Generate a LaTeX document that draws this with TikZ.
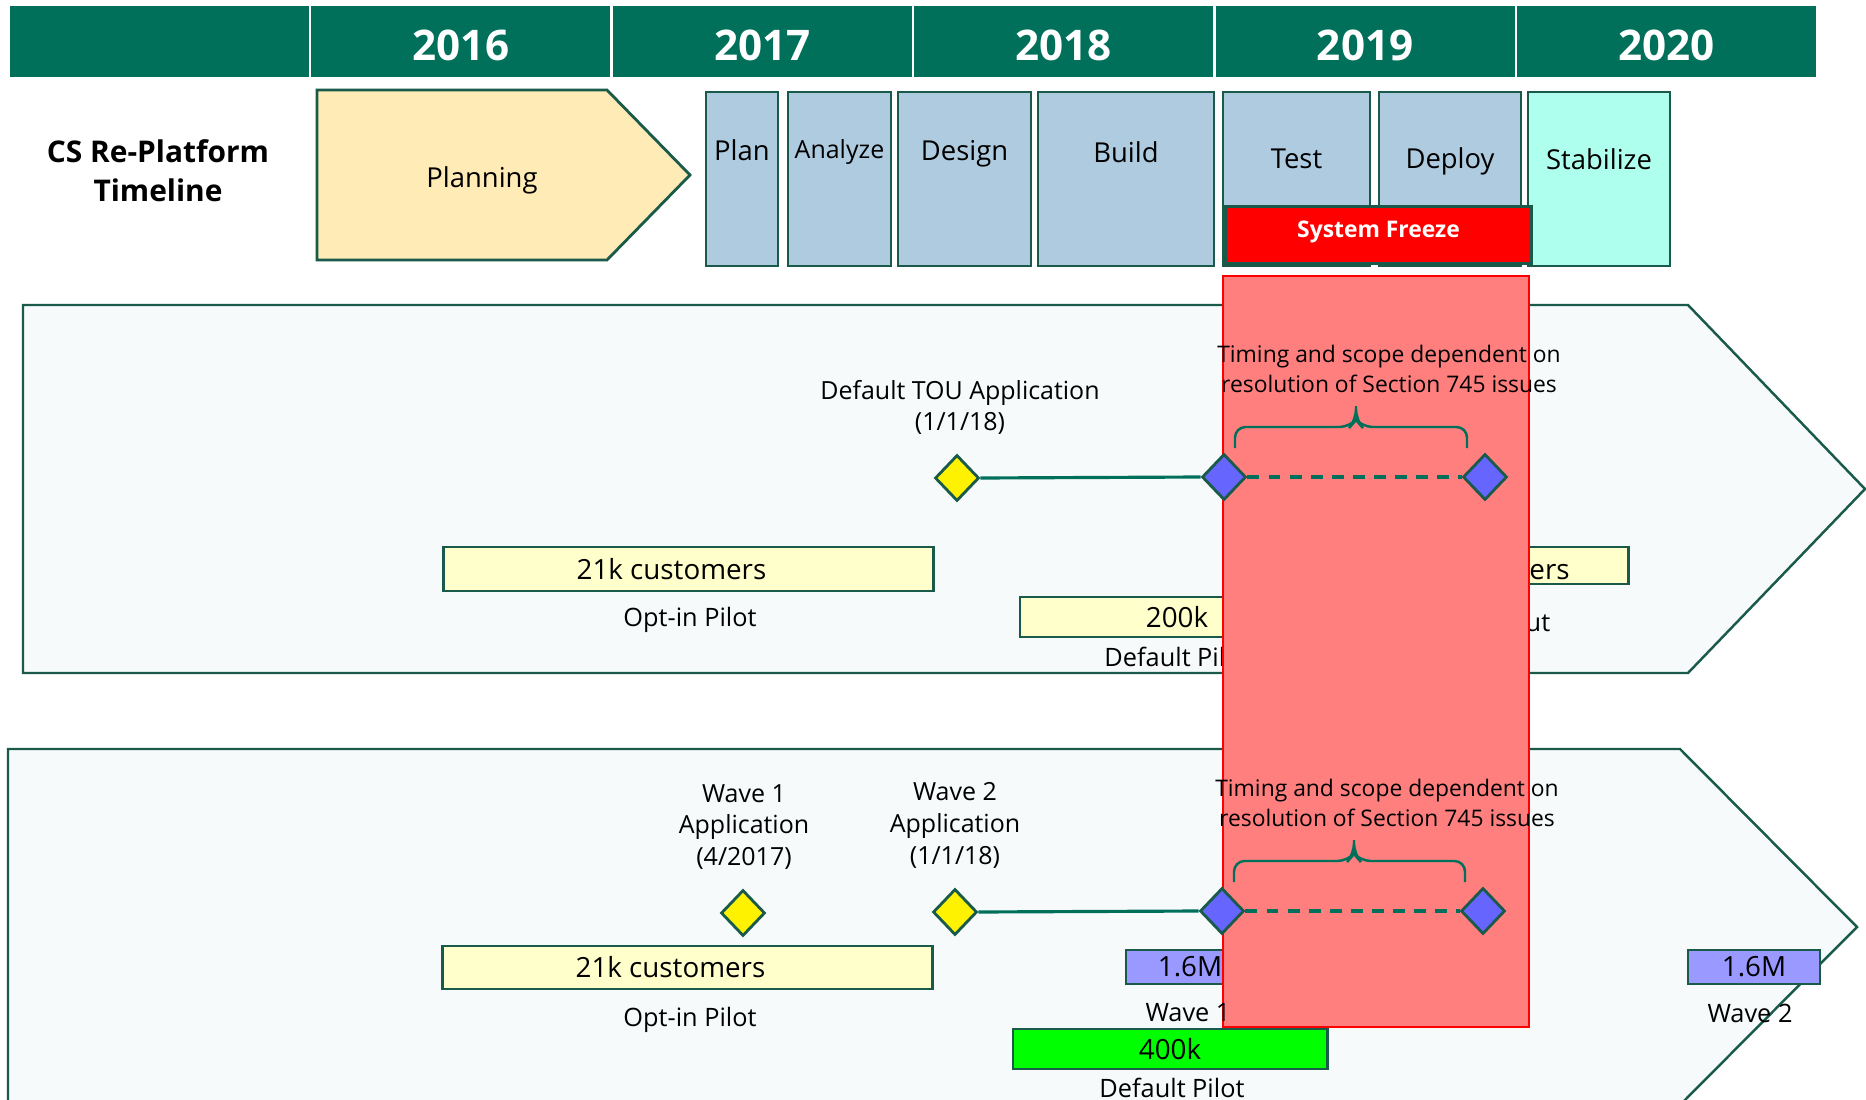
\documentclass[tikz,border=0pt]{standalone}
\usepackage{fontspec}
\setmainfont{Open Sans}
\usepackage{tikz}
\usetikzlibrary{shapes.geometric, positioning, calc}

\definecolor{hdrteal}{RGB}{0,112,90}
\definecolor{edge}{RGB}{25,90,75}
\definecolor{planfill}{RGB}{255,235,182}
\definecolor{phaseblue}{RGB}{174,203,223}
\definecolor{stabfill}{RGB}{175,255,238}
\definecolor{lanefill}{RGB}{246,250,251}
\definecolor{paleyellow}{RGB}{255,255,204}
\definecolor{wavepurple}{RGB}{153,153,255}
\definecolor{pilotgreen}{RGB}{0,255,0}
\definecolor{zonered}{RGB}{255,127,127}
\definecolor{gateblue}{RGB}{102,102,255}

\begin{document}
\begin{tikzpicture}[x=0.01cm, y=-0.01cm,
        yearcell/.style={fill=hdrteal, minimum width=2.99cm, minimum height=0.71cm, inner sep=0pt},
        yeartext/.style={text=white, font=\fontsize{12}{14}\selectfont\bfseries, inner sep=0pt},
        rowlabel/.style={align=center, font=\fontsize{8.5}{11}\selectfont\bfseries},
        phase/.style={draw=edge, line width=0.8pt, fill=phaseblue, minimum height=1.74cm, inner sep=0pt},
        phasetext/.style={font=\fontsize{7.8}{9}\selectfont},
        lane/.style={draw=edge, line width=0.7pt, fill=lanefill},
        bar/.style={draw=edge, line width=0.8pt, fill=paleyellow, inner sep=0pt, font=\fontsize{7.9}{9}\selectfont},
        caption/.style={font=\fontsize{7.2}{9}\selectfont},
        note/.style={align=center, font=\fontsize{7.1}{9}\selectfont},
        scopenote/.style={align=center, font=\fontsize{6.5}{8.3}\selectfont},
        milestone/.style={diamond, draw=edge, line width=0.8pt, fill=yellow, minimum width=0.44cm, minimum height=0.46cm, inner sep=0pt},
        gate/.style={milestone, fill=gateblue},
        link/.style={draw=hdrteal, line width=0.9pt},
        bracket/.style={draw=hdrteal, line width=0.7pt, rounded corners=3pt}
    ]
        \useasboundingbox (0,0) rectangle (1866,1100);

        % year header
        \node[yearcell] (hdr) at (159.5,41.5) {};
        \foreach \yr [count=\i] in {2016,2017,2018,2019,2020} {
            \node[yearcell] (y\yr) at ({10+\i*301.4+149.5},41.5) {};
            \node[yeartext] (t\yr) at ([yshift=-0.04cm]y\yr.center) {\yr};
        }

        % row titles
        \node[rowlabel] (csrow) at (158,171) {CS Re-Platform\\Timeline};
        \node[rowlabel] (origrow) at (149,512) {Original\\Assumed TOU\\Transition Plan};
        \node[rowlabel] (proprow) at (154,947) {Proposed TOU\\Transition Plan};

        % re-platform phases
        \draw[lane, fill=planfill, line width=0.8pt] (317,90) -- (607,90) -- (690,175) -- (607,260) -- (317,260) -- cycle;
        \node[phasetext] (planning) at (482,180) {Planning};

        \node[phase, minimum width=0.72cm] (plan) at (742,179) {};
        \node[phase, minimum width=1.03cm] (analyze) at (839.5,179) {};
        \node[phase, minimum width=1.33cm] (design) at (964.5,179) {};
        \node[phase, minimum width=1.76cm] (build) at (1126,179) {};
        \node[phase, minimum width=1.47cm] (test) at (1296.5,179) {};
        \node[phase, minimum width=1.42cm] (deploy) at (1450,179) {};
        \node[phase, minimum width=1.42cm, fill=stabfill] (stabilize) at (1599,179) {};

        \node[phasetext] (plantxt) at ([yshift=-0.60cm]plan.north) {Plan};
        \node[phasetext, font=\fontsize{7.1}{9}\selectfont] (analyzetxt) at ([yshift=-0.61cm]analyze.north) {Analyze};
        \node[phasetext] (designtxt) at ([yshift=-0.63cm]design.north) {Design};
        \node[phasetext] (buildtxt) at ([yshift=-0.62cm]build.north) {Build};
        \node[phasetext] (testtxt) at ([yshift=-0.685cm]test.north) {Test};
        \node[phasetext] (deploytxt) at ([yshift=-0.71cm]deploy.north) {Deploy};
        \node[phasetext] (stabtxt) at ([yshift=-0.685cm]stabilize.north) {Stabilize};

        \node[draw=edge, line width=0.8pt, fill=red, minimum width=3.06cm, minimum height=0.57cm, inner sep=0pt] (sysfreeze) at (1378.5,235) {};
        \node[text=white, font=\fontsize{6.5}{8}\selectfont\bfseries] (sysfreezetxt) at ([yshift=0.03cm]sysfreeze.center) {System Freeze};

        % plan lanes
        \draw[lane] (23,305) -- (1688,305) -- (1865,489) -- (1688,673) -- (23,673) -- cycle;
        \draw[lane] (8,749) -- (1680,749) -- (1857,927) -- (1680,1105) -- (8,1105) -- cycle;

        % bars partly under the freeze
        \node[bar, minimum width=4.89cm, minimum height=0.44cm] (oOptin) at (688.5,569) {21k customers\hspace*{0.34cm}};
        \node[caption] (oOptinlbl) at (690,619.5) {Opt-in Pilot};
        \node[bar, minimum width=3.14cm, minimum height=0.40cm] (oDefault) at (1177,617) {200k};
        \node[caption] (oDefaultlbl) at (1177,657) {Default Pilot};
        \node[bar, minimum width=3.88cm, minimum height=0.37cm] (oRollout) at (1434,565.5) {};
        \node[bar, draw=none, fill=none, anchor=west] (oRollouttxt) at (1528,572) {ers};
        \node[caption, anchor=west, inner sep=0pt] (oRolloutlbl) at (1525,623) {ut};

        \node[bar, minimum width=4.89cm, minimum height=0.43cm] (pOptin) at (687.5,967.5) {21k customers\hspace*{0.34cm}};
        \node[caption] (pOptinlbl) at (690,1019.5) {Opt-in Pilot};
        \node[bar, fill=wavepurple, minimum width=1.28cm, minimum height=0.34cm] (pWaveA) at (1190,967) {1.6M};

        % system freeze window
        \draw[fill=zonered, draw=red, line width=0.6pt] (1223,276) rectangle (1529,1027);

        % original plan milestones
        \node[note] (oAppnote) at (960,407.5) {Default TOU Application\\(1/1/18)};
        \node[milestone] (oApp) at (957,478) {};
        \node[gate] (oGateA) at (1224,477) {};
        \node[gate] (oGateB) at (1485,477) {};
        \draw[link] (oApp.east) -- (oGateA.west);
        \draw[link, dash pattern=on 3.4pt off 2.6pt] (oGateA.east) -- (oGateB.west);
        \coordinate (oBl) at (1235,448);
        \coordinate (oBr) at (1467,448);
        \coordinate (oBt) at (1356,406);
        \draw[bracket] (oBt) -- ++(0,14) -- ++(-6,7) -- ($(oBl)+(0,-21)$) -- (oBl)
                       (oBt) -- ++(0,14) -- ++(6,7) -- ($(oBr)+(0,-21)$) -- (oBr);
        \node[scopenote] (oScope) at (1389,369) {Timing and scope dependent on\\resolution of Section 745 issues};

        % proposed plan milestones
        \node[note] (pAppAnote) at (744,827) {Wave 1\\Application\\(4/2017)};
        \node[note] (pAppBnote) at (955,825.5) {Wave 2\\Application\\(1/1/18)};
        \node[milestone] (pAppA) at (743,913) {};
        \node[milestone] (pAppB) at (955,912) {};
        \node[gate] (pGateA) at (1222,911) {};
        \node[gate] (pGateB) at (1483,911) {};
        \draw[link] (pAppB.east) -- (pGateA.west);
        \draw[link, dash pattern=on 3.4pt off 2.6pt] (pGateA.east) -- (pGateB.west);
        \coordinate (pBl) at (1234,882);
        \coordinate (pBr) at (1465,882);
        \coordinate (pBt) at (1354,840);
        \draw[bracket] (pBt) -- ++(0,14) -- ++(-6,7) -- ($(pBl)+(0,-21)$) -- (pBl)
                       (pBt) -- ++(0,14) -- ++(6,7) -- ($(pBr)+(0,-21)$) -- (pBr);
        \node[scopenote] (pScope) at (1387,803) {Timing and scope dependent on\\resolution of Section 745 issues};

        \node[caption] (pWaveAlbl) at (1188,1013) {Wave 1};
        \node[bar, fill=pilotgreen, minimum width=3.14cm, minimum height=0.40cm] (pDefault) at (1170,1049) {400k};
        \node[caption] (pDefaultlbl) at (1172,1088) {Default Pilot};
        \node[bar, fill=wavepurple, minimum width=1.32cm, minimum height=0.34cm] (pWaveB) at (1754,967) {1.6M};
        \node[caption] (pWaveBlbl) at (1750,1013) {Wave 2};

    \end{tikzpicture}
\end{document}
